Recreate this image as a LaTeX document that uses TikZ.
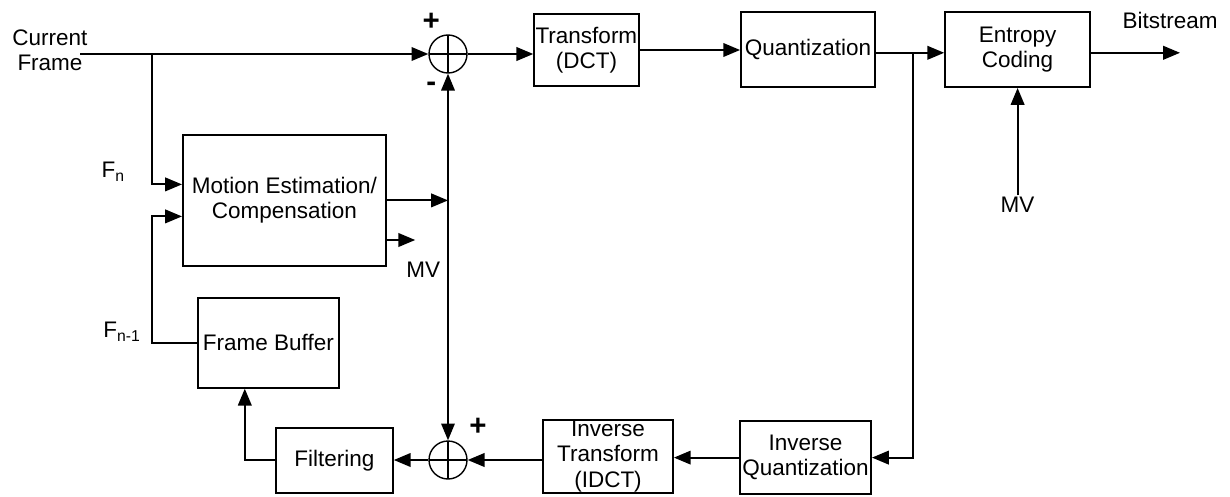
\documentclass[tikz,border=0pt]{standalone}
\usepackage{fontspec}
\setmainfont{Liberation Sans}
\usetikzlibrary{arrows.meta,positioning}

\begin{document}
\begin{tikzpicture}[x=1cm,y=1cm]
\tikzset{
  blocknode/.style={rectangle,draw,line width=1.3pt,inner sep=1pt,align=center,font=\fontsize{16}{18}\selectfont},
  sumnode/.style={circle,draw,line width=1pt,minimum size=9.5mm,inner sep=0pt,
    path picture={\draw[line width=1pt] (path picture bounding box.north) -- (path picture bounding box.south)
      (path picture bounding box.west) -- (path picture bounding box.east);}},
  labeltext/.style={inner sep=1pt,align=center,font=\fontsize{16}{18}\selectfont},
  signtext/.style={inner sep=1pt,font=\fontsize{21}{22}\selectfont\bfseries},
  directed/.style={-{Triangle[length=4.2mm,width=3.4mm]},line width=1.3pt},
  bothways/.style={{Triangle[length=4.2mm,width=3.4mm]}-{Triangle[length=4.2mm,width=3.4mm]},line width=1pt},
  undirected/.style={line width=1.3pt}
}
\useasboundingbox (0,0) rectangle (30.75,12.4);
% blocks
\node[blocknode,minimum width=5.075cm,minimum height=3.275cm] (n_ME) at (7.11,7.39) {Motion Estimation/\\Compensation};
\node[blocknode,minimum width=3.525cm,minimum height=2.25cm] (n_FB) at (6.71,3.83) {Frame Buffer};
\node[blocknode,minimum width=2.925cm,minimum height=1.625cm] (n_Filt) at (8.36,0.89) {Filtering};
\node[blocknode,minimum width=3.25cm,minimum height=1.825cm] (n_IT) at (15.20,0.99) {Inverse\\Transform\\(IDCT)};
\node[blocknode,minimum width=3.275cm,minimum height=1.825cm] (n_IQ) at (20.14,0.96) {Inverse\\Quantization};
\node[blocknode,minimum width=2.275cm,minimum height=1.8cm] (n_T) at (14.66,11.15) {Transform\\(DCT)};
\node[blocknode,minimum width=3.35cm,minimum height=1.875cm] (n_Q) at (20.20,11.16) {Quantization};
\node[blocknode,minimum width=3.625cm,minimum height=1.875cm] (n_EC) at (25.44,11.16) {Entropy\\Coding};
\node[sumnode] (n_SumT) at (11.20,11.05) {};
\node[sumnode] (n_SumB) at (11.20,0.90) {};
% labels
\node[labeltext] (l_cur) at (1.25,11.15) {Current\\Frame};
\node[labeltext] (l_fn) at (2.83,8.10) {F\textsubscript{n}};
\node[labeltext] (l_fn1) at (3.05,4.10) {F\textsubscript{n-1}};
\node[labeltext] (l_mv1) at (10.58,5.65) {MV};
\node[labeltext] (l_mv2) at (25.44,7.28) {MV};
\node[labeltext] (l_bs) at (29.25,11.90) {Bitstream};
\node[signtext] (l_pt) at (10.78,11.85) {+};
\node[signtext] (l_mt) at (10.78,10.22) {-};
\node[signtext] (l_pb) at (11.95,1.73) {+};
\coordinate (c_in) at (2.00,11.05);
\coordinate (c_split) at (3.80,11.05);
\coordinate (c_mv) at (10.38,6.40);
\coordinate (c_qsplit) at (22.83,11.08);
\coordinate (c_bs) at (29.50,11.08);
% forward path
\draw[directed] (c_in) -- (n_SumT.west);
\draw[directed] (n_SumT.east) -- (n_SumT.east -| n_T.west);
\draw[directed] (n_T.east) -- (n_T.east -| n_Q.west);
\draw[directed] (c_qsplit -| n_Q.east) -- (c_qsplit -| n_EC.west);
\draw[directed] (c_bs -| n_EC.east) -- (c_bs);
\draw[directed] (l_mv2.north) -- (n_EC.south);
% motion estimation
\draw[directed] (c_split) |- ([yshift=0.4cm]n_ME.west);
\draw[directed] (n_FB.west) -- ++(-1.125,0) |- ([yshift=-0.4cm]n_ME.west);
\draw[directed] (n_ME.east) -- (n_ME.east -| n_SumT);
\draw[directed] (c_mv -| n_ME.east) -- (c_mv);
\draw[bothways] (n_SumB.north) -- (n_SumT.south);
% reconstruction loop
\draw[directed] (c_qsplit) |- (n_IQ.east);
\draw[directed] (n_IQ.west) -- (n_IQ.west -| n_IT.east);
\draw[directed] (n_SumB.east -| n_IT.west) -- (n_SumB.east);
\draw[directed] (n_SumB.west) -- (n_SumB.west -| n_Filt.east);
\draw[directed] (n_Filt.west) -| ([xshift=-0.59cm]n_FB.south);
\end{tikzpicture}
\end{document}
